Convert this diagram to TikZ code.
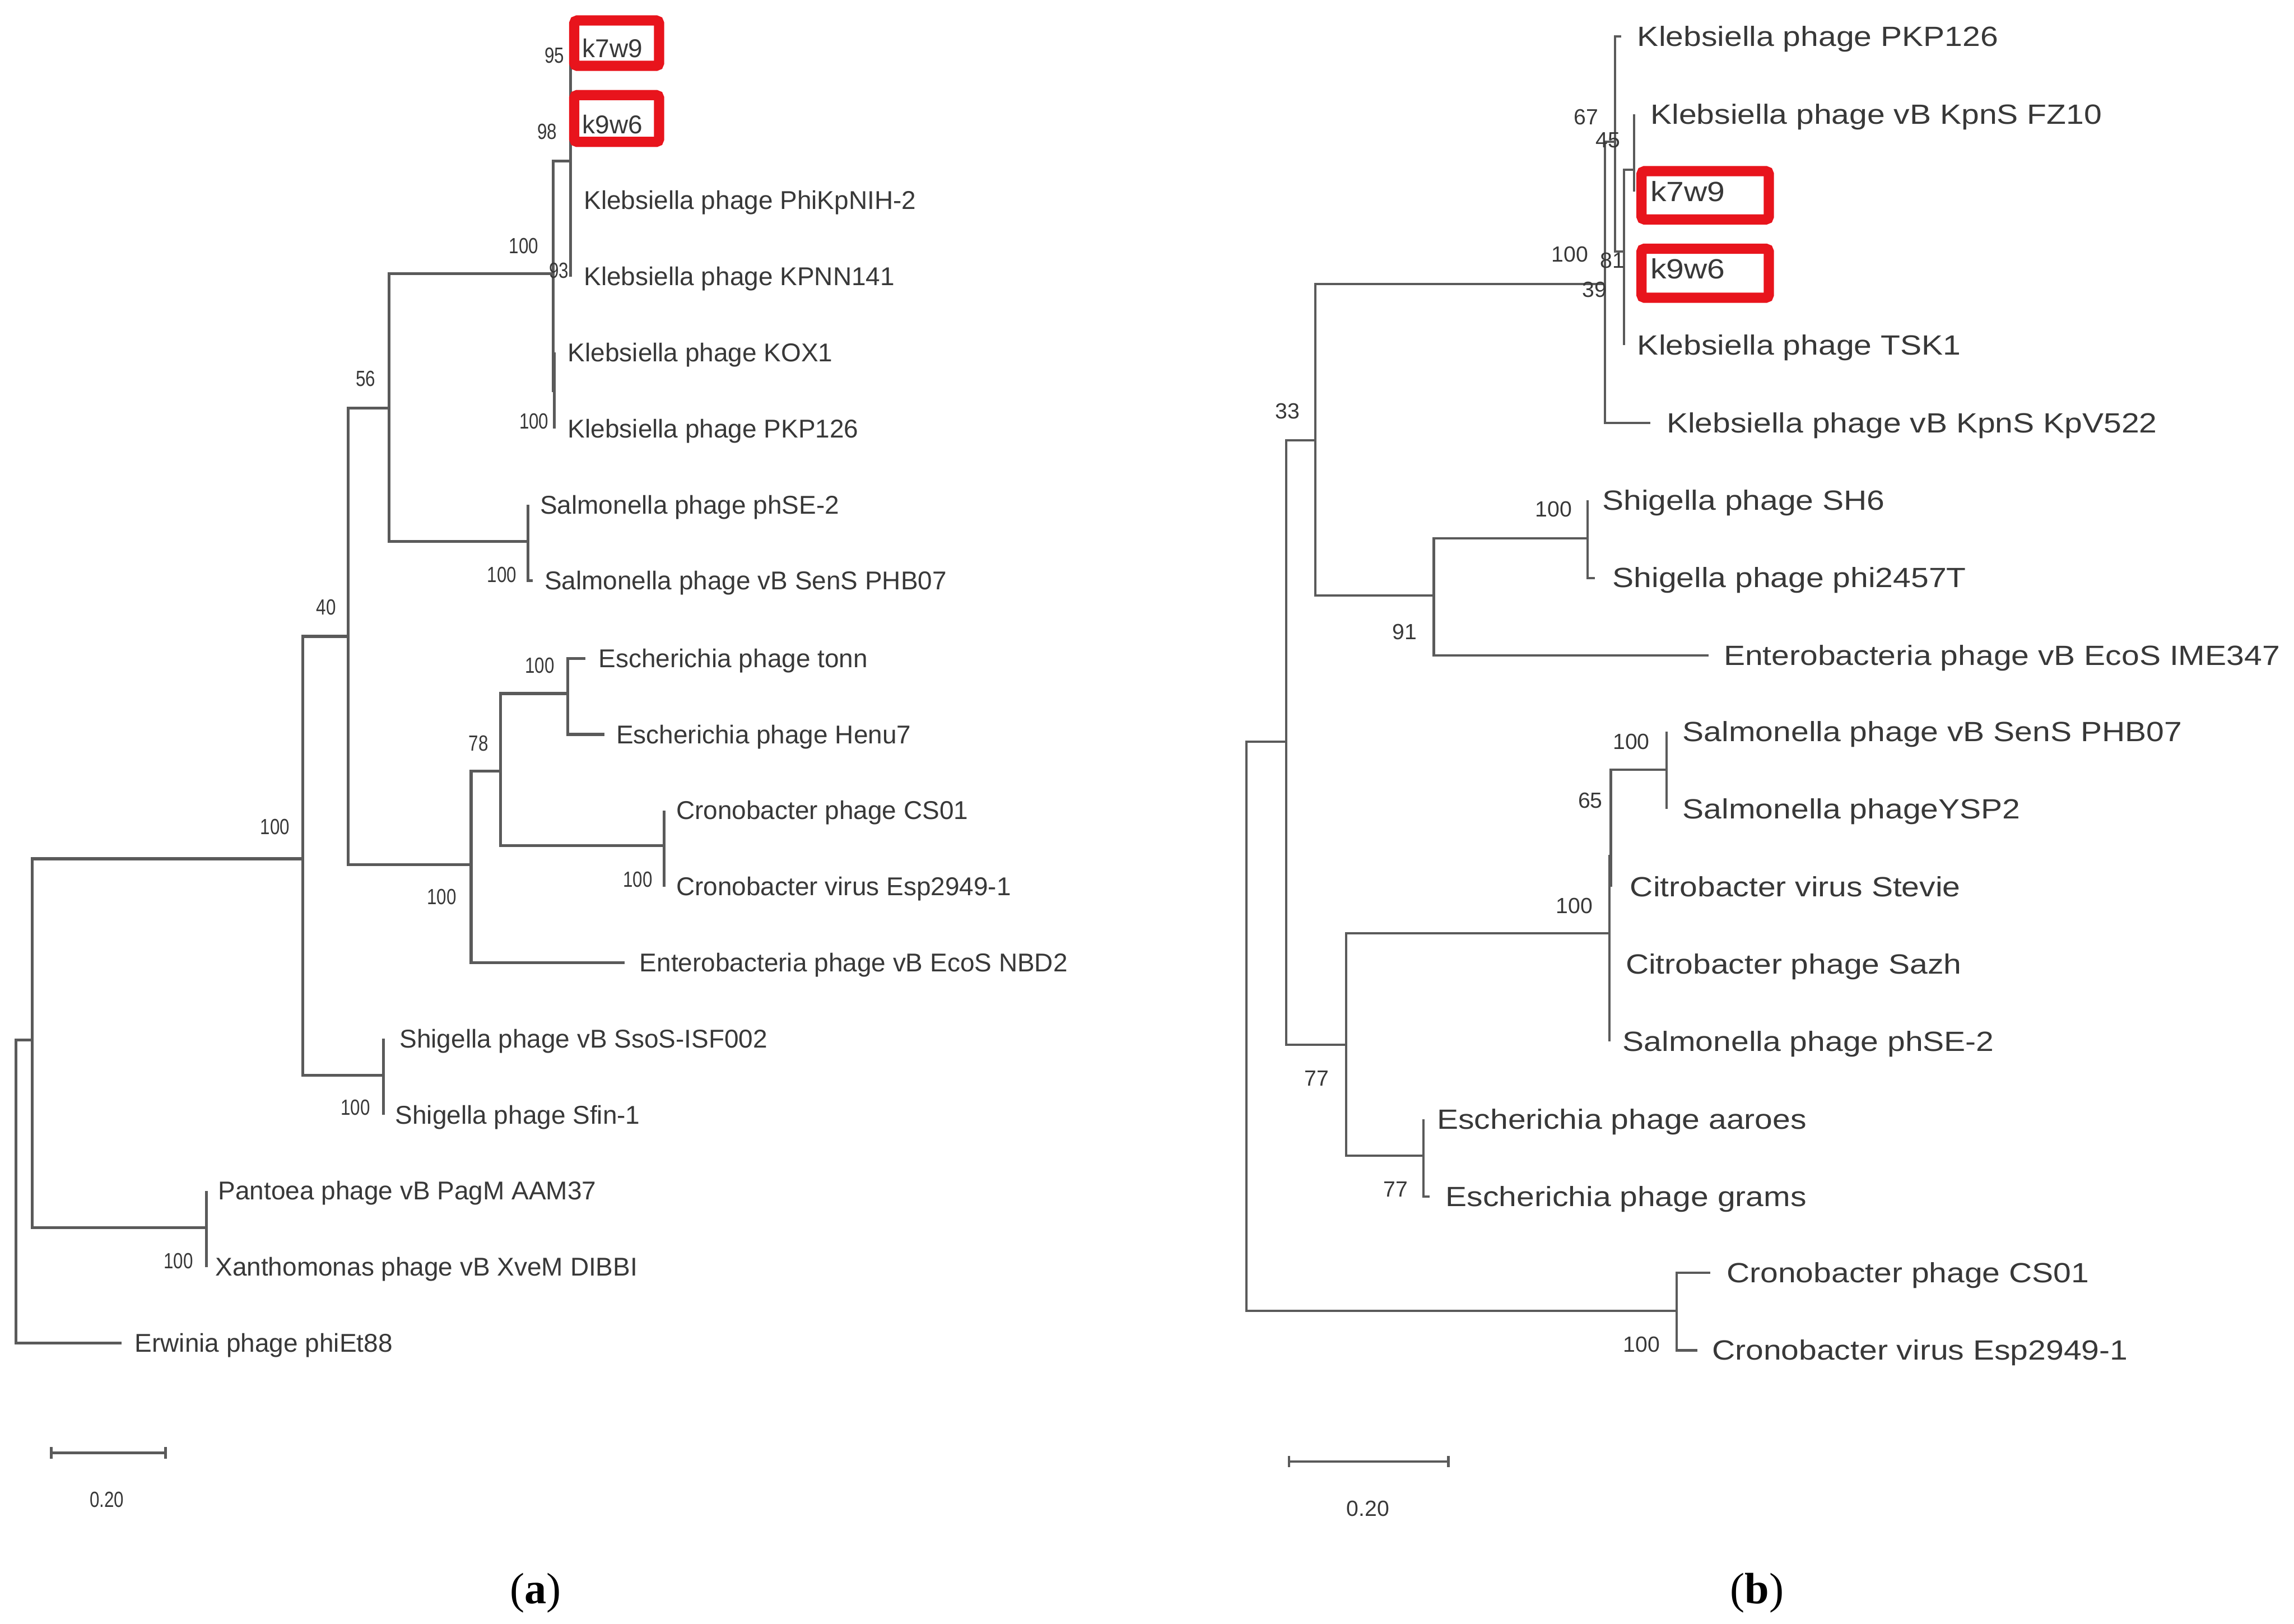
\documentclass[tikz,border=0pt]{standalone}
\usepackage{fontspec}
\usepackage{tikz}
\newfontfamily\leaffont{Liberation Sans}
\newfontfamily\wideleaffont[FakeStretch=1.15]{Liberation Sans}
\newfontfamily\bootfont[FakeStretch=0.8]{Liberation Sans}
\newfontfamily\capfont{Liberation Serif}
\definecolor{branch}{HTML}{5A5A5A}
\definecolor{leaftext}{HTML}{383838}
\definecolor{boxred}{HTML}{E8141C}

\begin{document}
\begin{tikzpicture}[x=1pt, y=-1pt,
  br/.style={draw=branch, line width=2pt},
  brb/.style={draw=branch, line width=1.6pt},
  lfa/.style={anchor=mid west, yshift=-4pt, inner sep=0pt, text=leaftext, font=\leaffont\fontsize{17.6}{20}\selectfont},
  lfb/.style={anchor=mid west, yshift=-4.5pt, inner sep=0pt, text=leaftext, font=\wideleaffont\fontsize{19}{22}\selectfont},
  bsa/.style={inner sep=0pt, text=leaftext, font=\bootfont\fontsize{15}{18}\selectfont},
  bsb/.style={inner sep=0pt, text=leaftext, font=\leaffont\fontsize{15}{18}\selectfont},
  hit/.style={draw=boxred, line width=7pt, rounded corners=2pt, inner sep=0pt},
  subcap/.style={inner sep=0pt, font=\capfont\fontsize{30}{34}\selectfont}]
\fill[white] (0,0) rectangle (1568,1110);
\useasboundingbox (0,0) rectangle (1568,1110);

\coordinate (aR) at (11,814);
\coordinate (a1) at (22,711);
\coordinate (a100) at (207,587);
\coordinate (a40) at (238,435);
\coordinate (a56) at (266,279);
\coordinate (aKl) at (378,187);
\coordinate (aKa) at (390,110);
\coordinate (a95) at (390,59);
\coordinate (a93) at (390,163);
\coordinate (aKox) at (379,267);
\coordinate (aSal) at (361,370);
\coordinate (aB) at (322,591);
\coordinate (a78) at (342,527);
\coordinate (aEs) at (388,474);
\coordinate (aCr) at (454,578);
\coordinate (aSh) at (262,735);
\coordinate (aPa) at (141,839);

\coordinate (aT1) at (390,33);
\coordinate (aT2) at (390,85);
\coordinate (aT3) at (390,137);
\coordinate (aT4) at (390,189);
\coordinate (aT5) at (379,241);
\coordinate (aT6) at (379,293);
\coordinate (aT7) at (361,345);
\coordinate (aT8) at (364,397);
\coordinate (aT9) at (400,450);
\coordinate (aT10) at (413,502);
\coordinate (aT11) at (454,554);
\coordinate (aT12) at (454,606);
\coordinate (aT13) at (427,658);
\coordinate (aT14) at (262,710);
\coordinate (aT15) at (262,762);
\coordinate (aT16) at (141,814);
\coordinate (aT17) at (141,866);
\coordinate (aT18) at (83,918);

\draw[br] (aR) |- (a1);
\draw[br] (aR) |- (aT18);
\draw[br] (a1) |- (a100);
\draw[br] (a1) |- (aPa);
\draw[br] (a100) |- (a40);
\draw[br] (a100) |- (aSh);
\draw[br] (a40) |- (a56);
\draw[br] (a40) |- (aB);
\draw[br] (a56) |- (aKl);
\draw[br] (a56) |- (aSal);
\draw[br] (aKl) |- (aKa);
\draw[br] (aKl) |- (aKox);
\draw[br] (aKa) |- (a95);
\draw[br] (aKa) |- (a93);
\draw[br] (a95) |- (aT1);
\draw[br] (a95) |- (aT2);
\draw[br] (a93) |- (aT3);
\draw[br] (a93) |- (aT4);
\draw[br] (aKox) |- (aT5);
\draw[br] (aKox) |- (aT6);
\draw[br] (aSal) |- (aT7);
\draw[br] (aSal) |- (aT8);
\draw[br] (aB) |- (a78);
\draw[br] (aB) |- (aT13);
\draw[br] (a78) |- (aEs);
\draw[br] (a78) |- (aCr);
\draw[br] (aEs) |- (aT9);
\draw[br] (aEs) |- (aT10);
\draw[br] (aCr) |- (aT11);
\draw[br] (aCr) |- (aT12);
\draw[br] (aSh) |- (aT14);
\draw[br] (aSh) |- (aT15);
\draw[br] (aPa) |- (aT16);
\draw[br] (aPa) |- (aT17);

\node[hit, minimum width=58pt, minimum height=31pt] (aBox1) at (421.5,29.5) {};
\node[hit, minimum width=58pt, minimum height=32pt] (aBox2) at (421.5,81) {};

\node[lfa] (aL1) at (398,33) {k7w9};
\node[lfa] (aL2) at (398,85) {k9w6};
\node[lfa] (aL3) at (399,137) {Klebsiella phage PhiKpNIH-2};
\node[lfa] (aL4) at (399,189) {Klebsiella phage KPNN141};
\node[lfa] (aL5) at (388,241) {Klebsiella phage KOX1};
\node[lfa] (aL6) at (388,293) {Klebsiella phage PKP126};
\node[lfa] (aL7) at (369,345) {Salmonella phage phSE-2};
\node[lfa] (aL8) at (372,397) {Salmonella phage vB SenS PHB07};
\node[lfa] (aL9) at (409,450) {Escherichia phage tonn};
\node[lfa] (aL10) at (421,502) {Escherichia phage Henu7};
\node[lfa] (aL11) at (462,554) {Cronobacter phage CS01};
\node[lfa] (aL12) at (462,606) {Cronobacter virus Esp2949-1};
\node[lfa] (aL13) at (437,658) {Enterobacteria phage vB EcoS NBD2};
\node[lfa] (aL14) at (273,710) {Shigella phage vB SsoS-ISF002};
\node[lfa] (aL15) at (270,762) {Shigella phage Sfin-1};
\node[lfa] (aL16) at (149,814) {Pantoea phage vB PagM AAM37};
\node[lfa] (aL17) at (147,866) {Xanthomonas phage vB XveM DIBBI};
\node[lfa] (aL18) at (92,918) {Erwinia phage phiEt88};

\node[bsa] (ab1) at (379,38) {95};
\node[bsa] (ab2) at (374,90) {98};
\node[bsa] (ab3) at (358,168) {100};
\node[bsa] (ab4) at (382,185) {93};
\node[bsa] (ab5) at (365,288) {100};
\node[bsa] (ab6) at (250,259) {56};
\node[bsa] (ab7) at (343,393) {100};
\node[bsa] (ab8) at (223,415) {40};
\node[bsa] (ab9) at (369,455) {100};
\node[bsa] (ab10) at (327,508) {78};
\node[bsa] (ab11) at (436,601) {100};
\node[bsa] (ab12) at (302,613) {100};
\node[bsa] (ab13) at (188,565) {100};
\node[bsa] (ab14) at (243,757) {100};
\node[bsa] (ab15) at (122,862) {100};

\coordinate (asL) at (35,993);
\coordinate (asR) at (113,993);
\draw[br] (asL) -- (asR);
\draw[br] ([yshift=4pt]asL) -- ([yshift=-4pt]asL);
\draw[br] ([yshift=4pt]asR) -- ([yshift=-4pt]asR);
\node[bsa] (asT) at (73,1025) {0.20};
\node[subcap] (capA) at (366,1089) {(\textbf{a})};

\coordinate (bR) at (852,700);
\coordinate (b33) at (879,507);
\coordinate (bTop) at (899,301);
\coordinate (bK) at (1097,194);
\coordinate (b67) at (1104,97);
\coordinate (b81) at (1110,172);
\coordinate (b45) at (1117,116);
\coordinate (b91) at (980,407);
\coordinate (bSh) at (1085,368);
\coordinate (b77) at (920,714);
\coordinate (bS) at (1100,638);
\coordinate (b65) at (1101,585);
\coordinate (bSal) at (1139,526);
\coordinate (bE) at (973,790);
\coordinate (bC) at (1146,896);

\coordinate (bT1) at (1108,25);
\coordinate (bT2) at (1117,78);
\coordinate (bT3) at (1117,131);
\coordinate (bT4) at (1110,184);
\coordinate (bT5) at (1110,236);
\coordinate (bT6) at (1128,289);
\coordinate (bT7) at (1085,342);
\coordinate (bT8) at (1090,395);
\coordinate (bT9) at (1168,448);
\coordinate (bT10) at (1139,500);
\coordinate (bT11) at (1139,553);
\coordinate (bT12) at (1101,606);
\coordinate (bT13) at (1100,659);
\coordinate (bT14) at (1100,712);
\coordinate (bT15) at (973,765);
\coordinate (bT16) at (977,818);
\coordinate (bT17) at (1169,870);
\coordinate (bT18) at (1160,923);

\draw[brb] (bR) |- (b33);
\draw[brb] (bR) |- (bC);
\draw[brb] (b33) |- (bTop);
\draw[brb] (b33) |- (b77);
\draw[brb] (bTop) |- (bK);
\draw[brb] (bTop) |- (b91);
\draw[brb] (bK) |- (b67);
\draw[brb] (bK) |- (bT6);
\draw[brb] (b67) |- (bT1);
\draw[brb] (b67) |- (b81);
\draw[brb] (b81) |- (b45);
\draw[brb] (b81) |- (bT4);
\draw[brb] (b81) |- (bT5);
\draw[brb] (b45) |- (bT2);
\draw[brb] (b45) |- (bT3);
\draw[brb] (b91) |- (bSh);
\draw[brb] (b91) |- (bT9);
\draw[brb] (bSh) |- (bT7);
\draw[brb] (bSh) |- (bT8);
\draw[brb] (b77) |- (bS);
\draw[brb] (b77) |- (bE);
\draw[brb] (bS) |- (b65);
\draw[brb] (bS) |- (bT13);
\draw[brb] (bS) |- (bT14);
\draw[brb] (b65) |- (bSal);
\draw[brb] (b65) |- (bT12);
\draw[brb] (bSal) |- (bT10);
\draw[brb] (bSal) |- (bT11);
\draw[brb] (bE) |- (bT15);
\draw[brb] (bE) |- (bT16);
\draw[brb] (bC) |- (bT17);
\draw[brb] (bC) |- (bT18);

\node[hit, minimum width=87pt, minimum height=33pt] (bBox1) at (1165.5,133.5) {};
\node[hit, minimum width=87pt, minimum height=33.5pt] (bBox2) at (1165.5,186.75) {};

\node[lfb] (bL1) at (1119,25) {Klebsiella phage PKP126};
\node[lfb] (bL2) at (1128,78) {Klebsiella phage vB KpnS FZ10};
\node[lfb] (bL3) at (1128,131) {k7w9};
\node[lfb] (bL4) at (1128,184) {k9w6};
\node[lfb] (bL5) at (1119,236) {Klebsiella phage TSK1};
\node[lfb] (bL6) at (1139,289) {Klebsiella phage vB KpnS KpV522};
\node[lfb] (bL7) at (1095,342) {Shigella phage SH6};
\node[lfb] (bL8) at (1102,395) {Shigella phage phi2457T};
\node[lfb] (bL9) at (1178,448) {Enterobacteria phage vB EcoS IME347};
\node[lfb] (bL10) at (1150,500) {Salmonella phage vB SenS PHB07};
\node[lfb] (bL11) at (1150,553) {Salmonella phageYSP2};
\node[lfb] (bL12) at (1114,606) {Citrobacter virus Stevie};
\node[lfb] (bL13) at (1111,659) {Citrobacter phage Sazh};
\node[lfb] (bL14) at (1109,712) {Salmonella phage phSE-2};
\node[lfb] (bL15) at (982,765) {Escherichia phage aaroes};
\node[lfb] (bL16) at (988,818) {Escherichia phage grams};
\node[lfb] (bL17) at (1180,870) {Cronobacter phage CS01};
\node[lfb] (bL18) at (1170,923) {Cronobacter virus Esp2949-1};

\node[bsb] (bb1) at (1084,80) {67};
\node[bsb] (bb2) at (1099,96) {45};
\node[bsb] (bb3) at (1073,174) {100};
\node[bsb] (bb4) at (1102,178) {81};
\node[bsb] (bb5) at (1090,198) {39};
\node[bsb] (bb6) at (880,281) {33};
\node[bsb] (bb7) at (1062,348) {100};
\node[bsb] (bb8) at (960,432) {91};
\node[bsb] (bb9) at (1115,507) {100};
\node[bsb] (bb10) at (1087,547) {65};
\node[bsb] (bb11) at (1076,619) {100};
\node[bsb] (bb12) at (900,737) {77};
\node[bsb] (bb13) at (954,813) {77};
\node[bsb] (bb14) at (1122,919) {100};

\coordinate (bsL) at (881,999);
\coordinate (bsR) at (990,999);
\draw[brb] (bsL) -- (bsR);
\draw[brb] ([yshift=4pt]bsL) -- ([yshift=-4pt]bsL);
\draw[brb] ([yshift=4pt]bsR) -- ([yshift=-4pt]bsR);
\node[bsb] (bsT) at (935,1031) {0.20};
\node[subcap] (capB) at (1201,1089) {(\textbf{b})};
\end{tikzpicture}
\end{document}
